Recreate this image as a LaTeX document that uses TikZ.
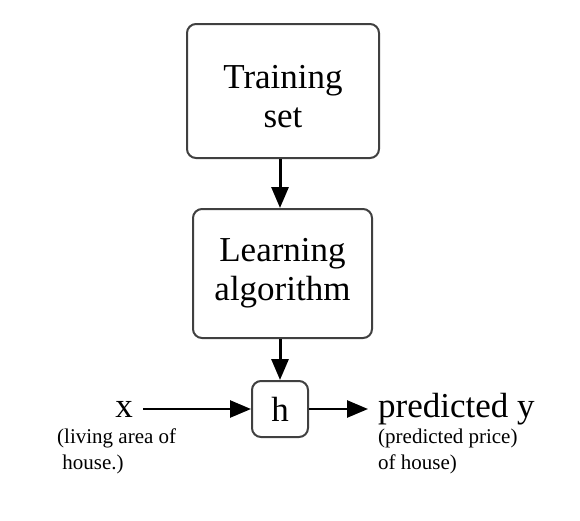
\documentclass[tikz,border=0pt]{standalone}
\usepackage{fontspec}
\setmainfont{Liberation Serif}
\usetikzlibrary{arrows.meta}
\begin{document}
\begin{tikzpicture}[x=1pt,y=-1pt,
  box/.style={draw=black!75,line width=2pt,rounded corners=9pt,fill=white,inner sep=0pt,align=center,font=\fontsize{35}{39}\selectfont},
  lbl/.style={inner sep=0pt,align=center,font=\fontsize{35}{39}\selectfont},
  big/.style={font=\fontsize{35}{40}\selectfont,inner sep=0pt},
  small/.style={font=\fontsize{21}{26}\selectfont,inner sep=0pt,align=left},
  arr/.style={line width=3pt,-{Triangle[length=21pt,width=17pt]}}]
\useasboundingbox (0,0) rectangle (580,520);
\node[box,minimum width=192pt,minimum height=134pt] (ts) at (283,91) {};
\node[lbl] (tst) at (283,97) {Training\\set};
\node[box,minimum width=179pt,minimum height=129pt] (la) at (282.5,273.5) {Learning\\algorithm};
\node[box,minimum width=56pt,minimum height=56pt] (h) at (280,409) {h};
\node[big,anchor=east] (x) at (133,409) {x};
\node[big,anchor=west] (y) at (378,409) {predicted y};
\node[small,anchor=north west] (xd) at (57,429) {(living area of\\\ house.)};
\node[small,anchor=north west] (yd) at (378,429) {(predicted price)\\of house)};
\draw[arr] (ts.south -| 280,0) -- (la.north -| 280,0);
\draw[arr] (la.south -| 280,0) -- (h.north);
\draw[arr,line width=2.6pt] (143,409) -- (h.west);
\draw[arr,line width=2.6pt] (h.east) -- (368,409);
\end{tikzpicture}
\end{document}
